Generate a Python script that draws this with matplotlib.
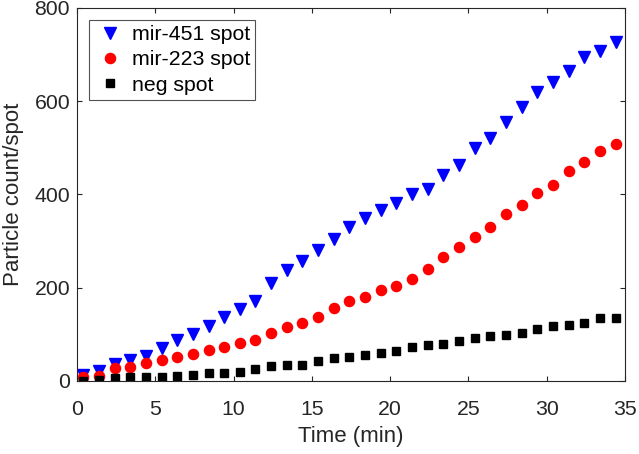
import matplotlib.pyplot as plt

plt.rcParams['font.family'] = ['Liberation Sans', 'DejaVu Sans']

time_min = [0.4, 1.4, 2.4, 3.4, 4.4, 5.4, 6.4, 7.4, 8.4, 9.4, 10.4, 11.4,
            12.4, 13.4, 14.4, 15.4, 16.4, 17.4, 18.4, 19.4, 20.4, 21.4, 22.4,
            23.4, 24.4, 25.4, 26.4, 27.4, 28.4, 29.4, 30.4, 31.4, 32.4, 33.4,
            34.4]
mir451 = [13, 21, 36, 45, 54, 70, 88, 100, 117, 137, 154, 172, 210, 237,
          258, 281, 305, 331, 350, 366, 382, 400, 412, 441, 464, 500, 521,
          556, 588, 619, 642, 665, 695, 708, 726]
mir223 = [9, 11, 27, 31, 38, 44, 51, 57, 67, 72, 81, 88, 104, 115, 125, 137,
          156, 172, 181, 196, 204, 219, 240, 266, 287, 308, 330, 359, 378,
          404, 420, 450, 470, 493, 509]
neg = [0, 2, 7, 9, 9, 9, 11, 13, 18, 18, 20, 26, 32, 34, 34, 42, 49, 52, 56,
       60, 65, 72, 77, 80, 85, 93, 97, 98, 104, 112, 119, 120, 125, 135, 136]

fig = plt.figure(figsize=(6.39, 4.54), dpi=100)
ax = fig.add_axes([0.1205, 0.1608, 0.8575, 0.8216])

ax.plot(time_min, mir451, 'v', color='#0000ff', markersize=8.5, label='mir-451 spot')
ax.plot(time_min, mir223, 'o', color='#ff0000', markersize=7.3, label='mir-223 spot')
ax.plot(time_min, neg, 's', color='black', markersize=6, label='neg spot')

ax.set_xlim(0, 35)
ax.set_ylim(0, 800)
ax.set_xticks(range(0, 36, 5))
ax.set_yticks(range(0, 801, 200))
ax.tick_params(direction='in', top=True, right=True, labelsize=15.3,
               colors='#262626', labelcolor='#262626')
ax.tick_params(axis='x', pad=14)
ax.tick_params(axis='y', pad=5)
for s in ax.spines.values():
    s.set_color('#262626')
    s.set_linewidth(0.8)

ax.set_xlabel('Time (min)', fontsize=16, color='#262626', labelpad=5)
ax.set_ylabel('Particle count/spot', fontsize=16, color='#262626')
ax.yaxis.set_label_coords(-0.096, 0.5)

leg = ax.legend(loc='upper left', fontsize=15.3, frameon=True, fancybox=False,
                edgecolor='#262626', borderpad=0.25, handletextpad=0.22,
                labelspacing=0.3, borderaxespad=0.55, handlelength=1.55)
leg.get_frame().set_linewidth(0.8)

fig.savefig('out.png', dpi=100)
